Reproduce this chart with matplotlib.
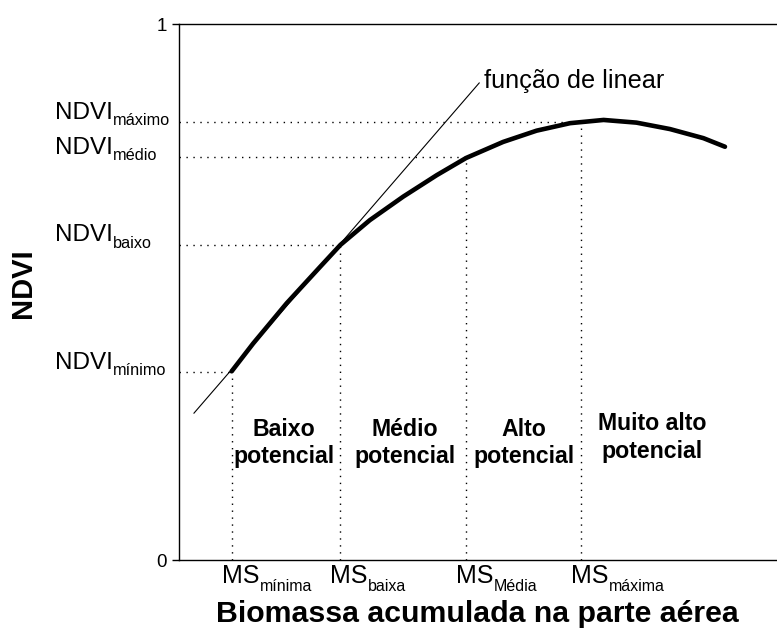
import numpy as np
import matplotlib
matplotlib.use('Agg')
import matplotlib.pyplot as plt

plt.rcParams['font.family'] = 'Liberation Sans'

# curve (x: biomass, y: NDVI)
curve_x = [0.088, 0.124, 0.180, 0.236, 0.270, 0.319, 0.375, 0.431, 0.480,
           0.542, 0.598, 0.654, 0.710, 0.765, 0.821, 0.877, 0.913]
curve_y = [0.352, 0.404, 0.479, 0.547, 0.588, 0.634, 0.678, 0.718, 0.750,
           0.780, 0.801, 0.815, 0.821, 0.816, 0.804, 0.787, 0.771]

# linear function endpoints
lin_x = [0.025, 0.502]
lin_y = [0.274, 0.890]

# reference levels
ms_x = [0.088, 0.270, 0.480, 0.673]
ndvi_y = [0.350, 0.588, 0.751, 0.817]
ms_subs = ['mínima', 'baixa', 'Média', 'máxima']
ndvi_subs = ['mínimo', 'baixo', 'médio', 'máximo']

regions = ['Baixo\npotencial', 'Médio\npotencial', 'Alto\npotencial', 'Muito alto\npotencial']
region_x = [0.176, 0.378, 0.577, 0.791]
region_y = [0.218, 0.218, 0.218, 0.229]

fig = plt.figure(figsize=(7.77, 6.3), dpi=100)
ax = fig.add_axes([0.2304, 0.1111, 0.7696, 0.8508])
ax.set_xlim(0, 1)
ax.set_ylim(0, 1)

ax.spines['right'].set_visible(False)
for s in ['left', 'top', 'bottom']:
    ax.spines[s].set_linewidth(1.0)

ax.set_xticks([])
ax.set_yticks([0, 1])
ax.set_yticklabels(['0', '1'])
ax.tick_params(axis='y', length=5, width=1, pad=4, labelsize=13.5)

# dotted guides
dots = (0, (1, 4))
for x, y in zip(ms_x, ndvi_y):
    ax.plot([0, x], [y, y], color='black', lw=1.0, linestyle=dots)
    ax.plot([x, x], [0, y], color='black', lw=1.0, linestyle=dots)

ax.plot(lin_x, lin_y, color='black', lw=0.8)
ax.plot(curve_x, curve_y, color='black', lw=3.3, solid_capstyle='round',
        solid_joinstyle='round')


def sub_label(main, sub, xy, xycoords, offset, size, subsize, drop):
    t = ax.annotate(main, xy=xy, xycoords=xycoords, xytext=offset,
                    textcoords='offset points', ha='left', va='baseline',
                    fontsize=size, annotation_clip=False)
    ax.annotate(sub, xy=(1, 0), xycoords=t, xytext=(0.3, -drop),
                textcoords='offset points', ha='left', va='baseline',
                fontsize=subsize, annotation_clip=False)


for sub, y in zip(ndvi_subs, ndvi_y):
    sub_label('NDVI', sub, (-0.2074, y), ax.get_yaxis_transform(), (0, 2.5),
              17.5, 11.7, 1.0)

for sub, x in zip(ms_subs, ms_x):
    sub_label('MS', sub, (x, 0), 'data', (-7.2, -16.8), 18, 11.5, 1.8)

for lab, x, y in zip(regions, region_x, region_y):
    ax.text(x, y, lab, ha='center', va='center', fontsize=16.7, fontweight='bold',
            linespacing=1.25, transform=ax.transAxes)

ax.text(0.510, 0.8806, 'função de linear', fontsize=18.2, ha='left', va='baseline',
        transform=ax.transAxes)

fig.text(23 / 777, 1 - 283 / 630, 'NDVI', rotation=90, ha='center', va='center',
         fontsize=21, fontweight='bold')
fig.text(477 / 777, 1 - 622 / 630, 'Biomassa acumulada na parte aérea', ha='center',
         va='baseline', fontsize=21.8, fontweight='bold')

fig.savefig('out.png', dpi=100)
